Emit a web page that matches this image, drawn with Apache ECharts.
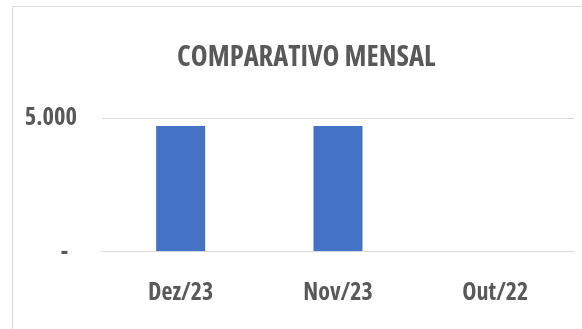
<!DOCTYPE html>
<html>
<head>
<meta charset="utf-8">
<script src="https://cdn.jsdelivr.net/npm/echarts@6/dist/echarts.min.js"></script>
<style>
  html, body { margin: 0; padding: 0; background: #ffffff; }
  #chart { width: 582px; height: 329px; }
</style>
</head>
<body>
<div id="chart"></div>
<script>
// Monthly comparison data
const titleText = 'COMPARATIVO MENSAL';
const categories = ['Dez/23', 'Nov/23', 'Out/22'];
const values = [4700, 4700, 0];
const yMin = 0;
const yMax = 5000;
const yInterval = 5000;

// Condensed bold sans for all text
const FONT = "'Open Sans', sans-serif";
const STRETCH = 'condensed';
const TEXT_COLOR = '#595959';

function textStyle(size) {
  return {
    fontFamily: FONT,
    fontStyle: STRETCH,
    fontWeight: 'bold',
    fontSize: size,
    color: TEXT_COLOR
  };
}

// Brazilian thousands separator; zero is shown as a dash
function formatTick(v) {
  if (v === 0) return '{dash|-}';
  return '{num|' + v.toLocaleString('pt-BR') + '}';
}

const chart = echarts.init(document.getElementById('chart'), null, { renderer: 'canvas' });

chart.setOption({
  animation: false,
  backgroundColor: '#ffffff',
  title: {
    text: titleText,
    left: 172,
    top: 38,
    textStyle: textStyle(28.5)
  },
  graphic: [{
    type: 'rect',
    silent: true,
    z: -10,
    shape: { x: 12.5, y: 6.5, width: 700, height: 500 },
    style: { fill: 'none', stroke: '#d9d9d9', lineWidth: 1 }
  }],
  grid: { left: 102, right: 8, top: 118, bottom: 78 },
  xAxis: {
    type: 'category',
    data: categories,
    axisLine: { show: true, lineStyle: { color: '#d9d9d9', width: 1 } },
    axisTick: { show: false },
    axisLabel: Object.assign({ margin: 30 }, textStyle(24))
  },
  yAxis: {
    type: 'value',
    min: yMin,
    max: yMax,
    interval: yInterval,
    axisLine: { show: false },
    axisTick: { show: false },
    splitLine: { lineStyle: { color: '#d9d9d9', width: 1 } },
    axisLabel: {
      margin: 25,
      formatter: formatTick,
      rich: {
        num: textStyle(24.5),
        dash: Object.assign({ padding: [2, 9, 0, 0] }, textStyle(24))
      }
    }
  },
  series: [{
    type: 'bar',
    data: values,
    barWidth: 49,
    itemStyle: { color: '#4472C4' }
  }]
});
</script>
</body>
</html>
